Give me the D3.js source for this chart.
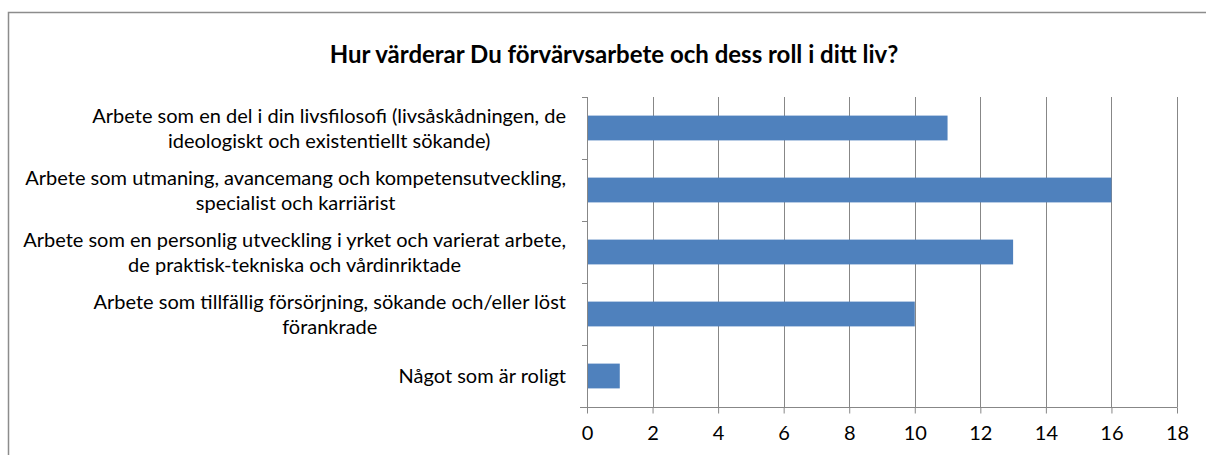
<!DOCTYPE html>
<html>
<head>
<meta charset="utf-8">
<script src="https://cdn.jsdelivr.net/npm/d3@7"></script>
<style>
  body { margin: 0; background: #fff; }
  text { font-family: Lato, "Open Sans", sans-serif; }
</style>
</head>
<body>
<div id="here"></div>
<script>
var w = 1206, h = 455;

var categories = [
  ["Arbete som en del i din livsfilosofi (livsåskådningen, de", "ideologiskt och existentiellt sökande)"],
  ["Arbete som utmaning, avancemang och kompetensutveckling,", "specialist och karriärist"],
  ["Arbete som en personlig utveckling i yrket och varierat arbete,", "de praktisk-tekniska och vårdinriktade"],
  ["Arbete som tillfällig försörjning, sökande och/eller löst", "förankrade"],
  ["Något som är roligt"]
];
var values = [11, 16, 13, 10, 1];
var ticks = [0, 2, 4, 6, 8, 10, 12, 14, 16, 18];

var plotL = 587, plotR = 1177, plotT = 97, plotB = 407;
var grey = "#878787";

var svg = d3.select("#here").append("svg")
  .attr("width", w)
  .attr("height", h);

// chart frame (runs past the right and bottom edges)
svg.append("rect")
  .attr("x", 8.5).attr("y", 12.5)
  .attr("width", 1300).attr("height", 600)
  .attr("fill", "none")
  .attr("stroke", "#8c8c8c")
  .attr("stroke-width", 1.5);

svg.append("text")
  .attr("x", 614).attr("y", 63)
  .attr("text-anchor", "middle")
  .style("font-weight", "bold")
  .style("font-size", "24px")
  .text("Hur värderar Du förvärvsarbete och dess roll i ditt liv?");

var x = d3.scaleLinear().domain([0, 18]).range([plotL, plotR]);
var y = d3.scaleBand().domain(d3.range(categories.length)).range([plotT, plotB]).paddingInner(0.6).paddingOuter(0.3);
var yb = d3.scaleBand().domain(d3.range(categories.length)).range([plotT, plotB]);

// vertical gridlines
svg.append("g").selectAll("line")
  .data(ticks.slice(1))
  .enter().append("line")
  .attr("x1", function(d) { return Math.round(x(d)) + 0.5; })
  .attr("x2", function(d) { return Math.round(x(d)) + 0.5; })
  .attr("y1", plotT).attr("y2", plotB)
  .attr("stroke", grey);

// bars
svg.append("g").selectAll("rect")
  .data(values)
  .enter().append("rect")
  .attr("x", x(0) + 1)
  .attr("y", function(d, i) { return y(i); })
  .attr("width", function(d) { return x(d) - x(0) - 1; })
  .attr("height", y.bandwidth())
  .attr("fill", "#4f81bd");

// bottom axis
var xAxis = svg.append("g")
  .attr("transform", "translate(0," + (plotB + 0.5) + ")")
  .call(d3.axisBottom(x).tickValues(ticks).tickSize(6).tickSizeOuter(0).tickPadding(12));
xAxis.select(".domain").attr("stroke", grey).attr("d", "M580,0H" + (plotR + 0.5));
xAxis.selectAll(".tick line").attr("stroke", grey);
xAxis.selectAll(".tick text").style("font-size", "20px").attr("fill", "#000").attr("font-family", null);

// left axis line with ticks at category boundaries
svg.append("line")
  .attr("x1", plotL + 0.5).attr("x2", plotL + 0.5)
  .attr("y1", plotT).attr("y2", plotB)
  .attr("stroke", grey);
svg.append("g").selectAll("line")
  .data(d3.range(categories.length))
  .enter().append("line")
  .attr("x1", plotL - 5).attr("x2", plotL)
  .attr("y1", function(i) { return Math.round(yb(i)) + 0.5; })
  .attr("y2", function(i) { return Math.round(yb(i)) + 0.5; })
  .attr("stroke", grey);

// category labels: centred lines, block right-aligned
var labelRight = 566, lineH = 25;
var lab = svg.append("g").selectAll("text")
  .data(categories)
  .enter().append("text")
  .attr("text-anchor", "middle")
  .style("font-size", "20px")
  .attr("fill", "#000");
lab.each(function(lines, i) {
  var t = d3.select(this);
  var cy = yb(i) + yb.bandwidth() / 2;
  var y0 = cy - (lines.length - 1) * lineH / 2;
  lines.forEach(function(s, k) {
    t.append("tspan").attr("y", y0 + k * lineH).attr("dy", "0.35em").text(s);
  });
  var maxW = 0;
  t.selectAll("tspan").each(function() { maxW = Math.max(maxW, this.getComputedTextLength()); });
  t.selectAll("tspan").attr("x", labelRight - maxW / 2);
});
</script>
</body>
</html>
